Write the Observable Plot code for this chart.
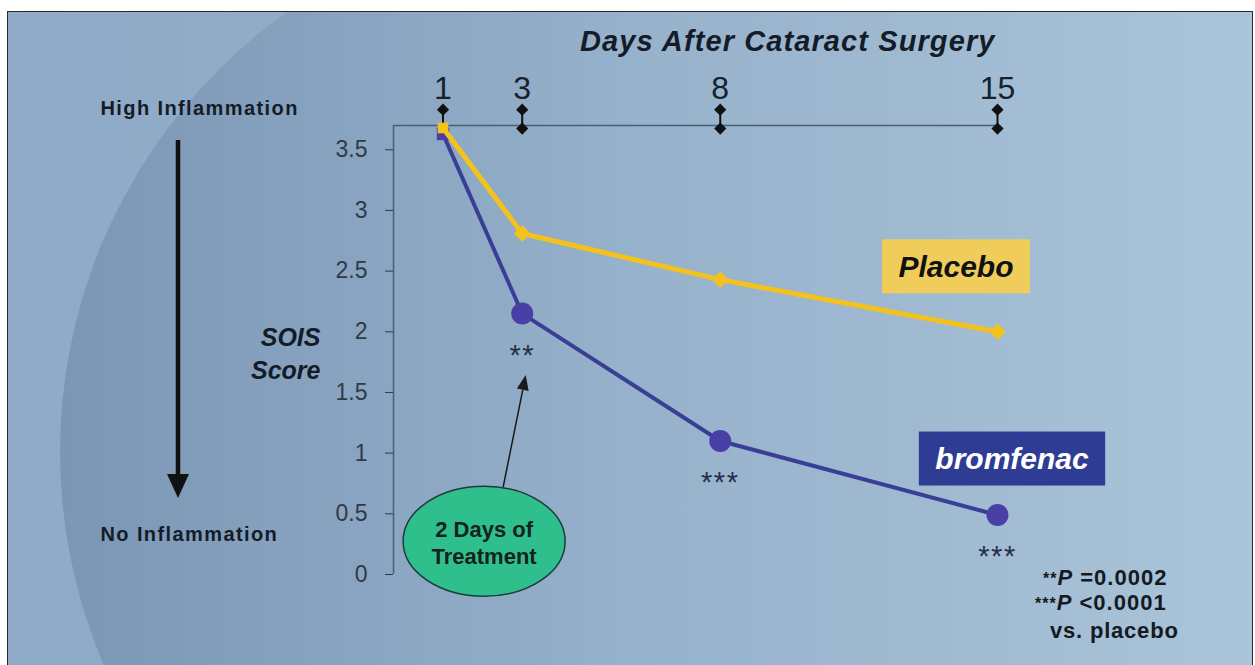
<!DOCTYPE html>
<html>
<head>
<meta charset="utf-8">
<script src="https://cdn.jsdelivr.net/npm/d3@7"></script>
<script src="https://cdn.jsdelivr.net/npm/@observablehq/plot@0.6"></script>
<style>
  html, body { margin: 0; padding: 0; background: #ffffff; }
  #figure { position: relative; width: 1255px; height: 665px; overflow: hidden; }
  #panel {
    position: absolute; left: 7px; top: 11px; width: 1246px; height: 700px;
    border: 1px solid #2a2a2a; box-sizing: border-box; overflow: hidden;
    background: linear-gradient(to right, #8eaac6 0%, #93aec9 40%, #9fb9d1 72%, #aac4d9 100%);
  }
  /* large shaded disc behind the chart, darkest at its left rim */
  #disc {
    position: absolute; left: 52px; top: -100px; width: 1080px; height: 1080px; border-radius: 50%;
    background: linear-gradient(to right, rgba(22,52,92,0.17) 0%, rgba(22,52,92,0.10) 18%, rgba(22,52,92,0.04) 36%, rgba(22,52,92,0) 52%);
  }
  #figure svg { position: absolute; left: 0; top: 0; }
  .title text { letter-spacing: 1.1px; }
  .spaced text { letter-spacing: 1.4px; }
  .stars text { letter-spacing: 1.5px; }
</style>
</head>
<body>
<div id="figure"><div id="panel"><div id="disc"></div></div></div>
<script>
// Mean SOIS score after cataract surgery, by visit day
const days = [1, 3, 8, 15];
const placebo = [3.68, 2.81, 2.43, 2.0];
const bromfenac = [3.63, 2.15, 1.10, 0.49];
const bromfenacSignificance = ["", "**", "***", "***"];
const scoreTicks = [0, 0.5, 1, 1.5, 2, 2.5, 3, 3.5];
const seriesNames = ["Placebo", "bromfenac"];
const pValueNotes = [
  {stars: "**", text: " =0.0002"},
  {stars: "***", text: " <0.0001"}
];
const comparisonNote = "vs. placebo";
const treatmentNote = ["2 Days of", "Treatment"];
const treatmentDay = 2;

const placeboRows = days.map((day, i) => ({day, score: placebo[i], series: seriesNames[0]}));
const bromfenacRows = days.map((day, i) => ({day, score: bromfenac[i], series: seriesNames[1], sig: bromfenacSignificance[i]}));

const FONT = "'Liberation Sans', Arial, Helvetica, sans-serif";
const YELLOW = "#f3c21d", YELLOW_LABEL = "#f0cd5a";
const BLUE_LINE = "#393f95", BLUE_DOT = "#4a3fa6", BLUE_LABEL = "#2f3c93";
const AXIS = "#4a5e77", INK = "#141c28";
const X_DOMAIN = [-0.25, 15], Y_DOMAIN = [0, 3.7];

const measure = document.createElement("canvas").getContext("2d");
function textWidth(str, font) { measure.font = font; return measure.measureText(str).width; }

function drawArrow(g, x1, y1, x2, y2, width, headLen, headHalf, color) {
  const a = Math.atan2(y2 - y1, x2 - x1);
  const bx = x2 - headLen * Math.cos(a), by = y2 - headLen * Math.sin(a);
  const px = -Math.sin(a), py = Math.cos(a);
  g.append("line").attr("x1", x1).attr("y1", y1).attr("x2", bx).attr("y2", by)
    .attr("stroke", color).attr("stroke-width", width);
  g.append("path")
    .attr("d", `M${x2},${y2}L${bx + px * headHalf},${by + py * headHalf}L${bx - px * headHalf},${by - py * headHalf}Z`)
    .attr("fill", color);
}

// Scale arrow, treatment bubble, series labels and p-value notes
function annotations(index, scales, values, dims) {
  const {x, y} = scales;
  const g = d3.create("svg:g").attr("font-family", FONT);
  const frameLeft = dims.marginLeft, frameTop = dims.marginTop;
  const frameRight = dims.width - dims.marginRight, frameBottom = dims.height - dims.marginBottom;

  // inflammation direction arrow
  drawArrow(g, frameLeft - 215, frameTop + 15, frameLeft - 215, frameBottom - 76, 4.5, 24, 11, "#111");

  // treatment bubble
  const cx = x(treatmentDay) + 2, cy = y(0.27), rx = 81, ry = 55;
  drawArrow(g, cx + 19, cy - ry + 1, x(days[1]) + 4, y(bromfenac[1]) + 62, 1.5, 15, 6, "#1a1a1a");
  g.append("ellipse").attr("cx", cx).attr("cy", cy).attr("rx", rx).attr("ry", ry)
    .attr("fill", "#2fbf8d").attr("stroke", "#1d3b3a").attr("stroke-width", 1.5);
  treatmentNote.forEach((line, i) => {
    g.append("text").attr("x", cx).attr("y", cy - 12 + i * 27).attr("dy", "0.35em")
      .attr("text-anchor", "middle").attr("font-size", 22).attr("font-weight", "bold")
      .attr("fill", "#13211f").text(line);
  });

  // series labels beside the last visit
  const labelFont = `italic bold 30px ${FONT}`;
  const labels = [
    {name: seriesNames[0], row: placeboRows[placeboRows.length - 1], dx: -41, dy: -65, fill: YELLOW_LABEL, ink: "#111"},
    {name: seriesNames[1], row: bromfenacRows[bromfenacRows.length - 1], dx: 15, dy: -56, fill: BLUE_LABEL, ink: "#ffffff"}
  ];
  for (const l of labels) {
    const lx = x(l.row.day) + l.dx, ly = y(l.row.score) + l.dy;
    const w = textWidth(l.name, labelFont) + 33, h = 54;
    g.append("rect").attr("x", lx - w / 2).attr("y", ly - h / 2).attr("width", w).attr("height", h).attr("fill", l.fill);
    g.append("text").attr("x", lx).attr("y", ly).attr("dy", "0.36em").attr("text-anchor", "middle")
      .attr("font-size", 30).attr("font-weight", "bold").attr("font-style", "italic")
      .attr("fill", l.ink).text(l.name);
  }

  // p-value notes
  const noteX = [frameRight + 46, frameRight + 38];
  pValueNotes.forEach((n, i) => {
    const t = g.append("text").attr("x", noteX[i]).attr("y", frameBottom + 11 + i * 25)
      .attr("text-anchor", "start")
      .attr("font-size", 22).attr("font-weight", "bold").attr("fill", "#141a22").attr("letter-spacing", "1px");
    t.append("tspan").attr("font-size", 16).attr("dy", "-0.05em").text(n.stars);
    t.append("tspan").attr("font-style", "italic").attr("dy", "0.05em").text("P");
    t.append("tspan").text(n.text);
  });
  g.append("text").attr("x", frameRight + 53).attr("y", frameBottom + 64).attr("text-anchor", "start")
    .attr("font-size", 22).attr("font-weight", "bold").attr("fill", "#141a22").attr("letter-spacing", "0.8px")
    .text(comparisonNote);

  return g.node();
}

const chart = Plot.plot({
  width: 1255,
  height: 665,
  marginLeft: 393,
  marginRight: 258,
  marginTop: 125,
  marginBottom: 91,
  x: {domain: X_DOMAIN},
  y: {domain: Y_DOMAIN},
  style: {background: "transparent", fontFamily: FONT, overflow: "visible"},
  marks: [
    // axis lines
    Plot.ruleX([X_DOMAIN[0]], {stroke: AXIS, strokeWidth: 1.5}),
    Plot.ruleY([Y_DOMAIN[1]], {stroke: AXIS, strokeWidth: 1.3}),
    Plot.axisY({ticks: scoreTicks, tickFormat: d => String(d), tickSize: 8, tickPadding: 18,
      fontSize: 23, color: "#2f3a48", label: null}),
    Plot.axisX({anchor: "top", ticks: days, tickSize: 0, tickPadding: 27,
      fontSize: 32, color: "#17212c", label: null}),
    // visit markers on the top axis
    Plot.ruleX(days, {x: d => d, y1: 3.675, y2: 3.83, stroke: "#111", strokeWidth: 2}),
    Plot.dot(days, {x: d => d, y: 3.83, symbol: "diamond2", r: 5.5, fill: "#111"}),
    Plot.dot(days, {x: d => d, y: 3.675, symbol: "diamond2", r: 5.5, fill: "#111"}),
    // headings
    Plot.text(["Days After Cataract Surgery"], {text: d => d, frameAnchor: "top-right", textAnchor: "end",
      dx: -2, dy: -95, fontSize: 29, fontWeight: "bold", fontStyle: "italic", fill: INK, className: "title"}),
    Plot.text(["High Inflammation"], {text: d => d, frameAnchor: "top-left", textAnchor: "start",
      dx: -293, dy: -25, fontSize: 20, fontWeight: "bold", fill: INK, className: "spaced"}),
    Plot.text(["No Inflammation"], {text: d => d, frameAnchor: "bottom-left", textAnchor: "start",
      dx: -293, dy: -34, fontSize: 20, fontWeight: "bold", fill: INK, className: "spaced"}),
    Plot.text(["SOIS\nScore"], {text: d => d, frameAnchor: "left", textAnchor: "end",
      dx: -73, dy: 2, fontSize: 25, fontWeight: "bold", fontStyle: "italic", lineHeight: 1.3, fill: INK}),
    // series
    Plot.line(bromfenacRows, {x: "day", y: "score", stroke: BLUE_LINE, strokeWidth: 4}),
    Plot.dot(bromfenacRows, {filter: d => d.day !== days[0], x: "day", y: "score", r: 11, fill: BLUE_DOT}),
    Plot.dot(bromfenacRows, {filter: d => d.day === days[0], x: "day", y: "score", symbol: "square", r: 7, fill: BLUE_DOT}),
    Plot.line(placeboRows, {x: "day", y: "score", stroke: YELLOW, strokeWidth: 5}),
    Plot.dot(placeboRows, {filter: d => d.day !== days[0], x: "day", y: "score", symbol: "diamond2", r: 7.5, fill: YELLOW}),
    Plot.dot(placeboRows, {filter: d => d.day === days[0], x: "day", y: "score", symbol: "square", r: 6, fill: YELLOW}),
    // significance stars
    Plot.text(bromfenacRows, {filter: d => d.sig, x: "day", y: "score", text: "sig", dy: 42,
      fontSize: 29, fill: "#26304a", className: "stars"}),
    annotations
  ]
});

document.getElementById("figure").appendChild(chart);
</script>
</body>
</html>
